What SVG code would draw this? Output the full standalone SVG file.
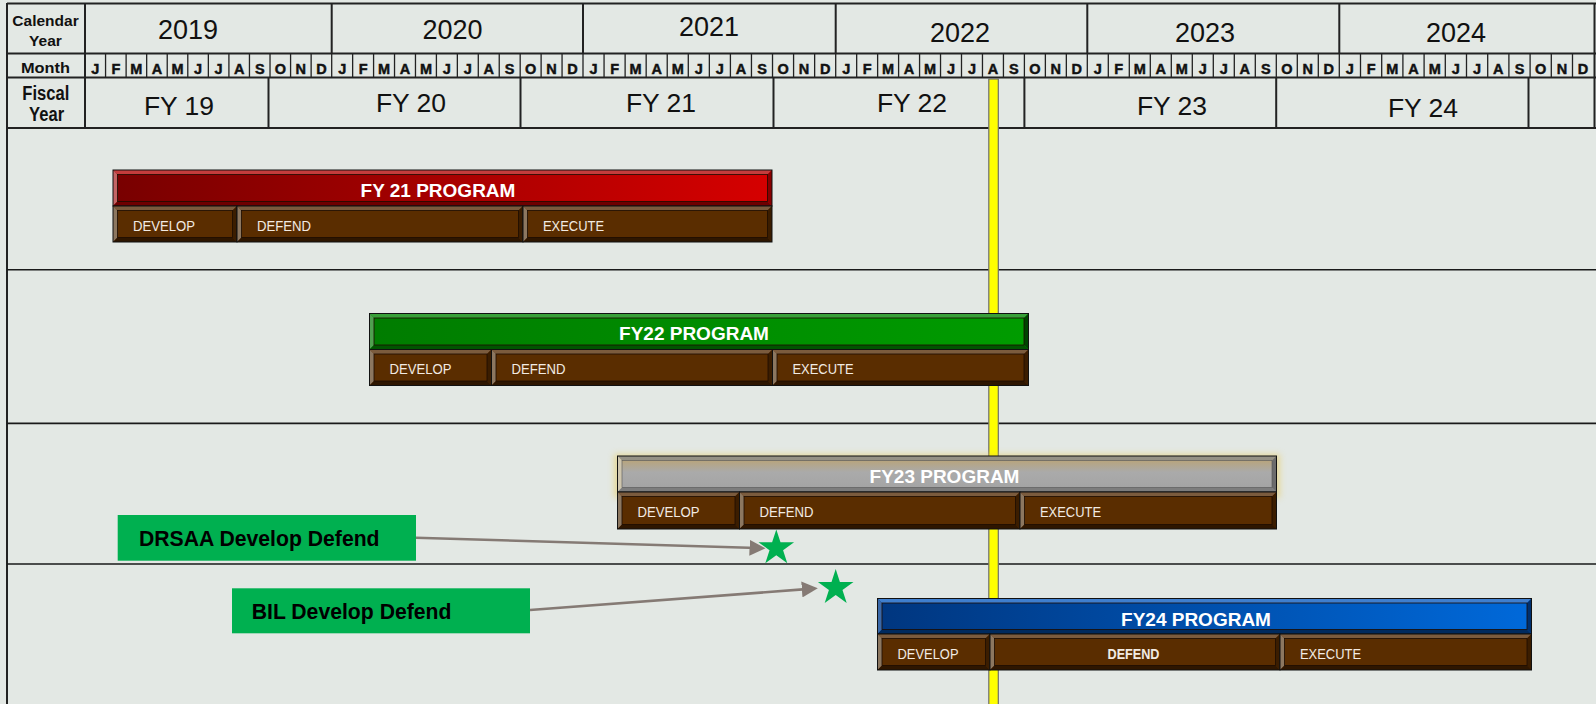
<svg xmlns="http://www.w3.org/2000/svg" width="1596" height="704" viewBox="0 0 1596 704">
<defs>
<linearGradient id="gRed" x1="0" y1="0" x2="1" y2="0"><stop offset="0" stop-color="#780000"/><stop offset="1" stop-color="#d60000"/></linearGradient>
<linearGradient id="gGreen" x1="0" y1="0" x2="1" y2="0"><stop offset="0" stop-color="#007c00"/><stop offset="1" stop-color="#009c00"/></linearGradient>
<linearGradient id="gGray" x1="0" y1="0" x2="0" y2="1"><stop offset="0" stop-color="#bda36c"/><stop offset="0.45" stop-color="#aaaaaa"/><stop offset="1" stop-color="#a3a3a3"/></linearGradient>
<linearGradient id="gBlue" x1="0" y1="0" x2="1" y2="0"><stop offset="0" stop-color="#00367f"/><stop offset="1" stop-color="#0069da"/></linearGradient>
<filter id="glow" x="-10%" y="-50%" width="120%" height="200%"><feGaussianBlur stdDeviation="3"/></filter>
<marker id="ah" markerUnits="userSpaceOnUse" markerWidth="16" markerHeight="16" viewBox="0 0 15 15" refX="7" refY="7.5" orient="auto"><path d="M0,0 L15,7.5 L0,15 Z" fill="#857a74"/></marker>
<path id="star" d="M0,-18.7 L4.2,-5.78 L17.79,-5.78 L6.79,2.21 L10.99,15.13 L0,7.14 L-10.99,15.13 L-6.79,2.21 L-17.79,-5.78 L-4.2,-5.78 Z"/>
</defs>
<style>
text{font-family:"Liberation Sans",Arial,sans-serif}
.lab{font-size:15.5px;font-weight:bold;fill:#111;text-anchor:middle}
.yr{font-size:27px;fill:#111;text-anchor:middle}
.fy{font-size:26.5px;fill:#111;text-anchor:middle}
.m{font-size:14.5px;font-weight:bold;fill:#111;stroke:#111;stroke-width:0.45;text-anchor:middle}
.grid{stroke:#222;stroke-width:2;fill:none}
.thin{stroke:#222;stroke-width:1.3;fill:none}
.row{stroke:#1a1a1a;stroke-width:1.6;fill:none}
.ol{fill:none;stroke:#111;stroke-width:1}
.in{fill:none;stroke:#1c0c00;stroke-width:0.8}
.bf{fill:#5a2d00}.bt{fill:#7b5b3d}.bl{fill:#8c7760}.br{fill:#3b1d00}.bb{fill:#2e1600}
.rf{fill:url(#gRed)}.rt{fill:#c43c3c}.rl{fill:#c46464}.rr{fill:#8a0000}.rb{fill:#6e0000}
.gf{fill:url(#gGreen)}.gt{fill:#38a038}.gl{fill:#50a050}.gr{fill:#004400}.gb{fill:#005400}
.yf{fill:url(#gGray)}.yt{fill:#959185}.yl{fill:#cfc6ae}.yrr{fill:#6c6c6c}.yb{fill:#7d7d7d}
.uf{fill:url(#gBlue)}.ut{fill:#3f7fcf}.ul{fill:#3a68a8}.ur{fill:#00306e}.ub{fill:#002a5e}
.tt{font-size:19px;font-weight:bold;fill:#fff;text-anchor:middle}
.st{font-size:15px;fill:#f2ebe3}
.gbox{fill:#00b050}
.gtx{font-size:21.2px;font-weight:bold;fill:#000}
.conn{stroke:#857a74;stroke-width:2.6;fill:none}
</style>
<rect x="0" y="0" width="1596" height="704" fill="#e3e8e4"/>

<g id="header">
<path class="grid" d="M7,3.5 H1596 M7,3 V704 M85,3 V128 M7,53.5 H1596 M7,77.5 H1596 M7,128 H1596 M1594.5,3 V128"/>
<path class="grid" d="M331.7,3.5 V53.5 M583,3.5 V53.5 M835.7,3.5 V53.5 M1087.3,3.5 V53.5 M1339.3,3.5 V53.5"/>
<path class="grid" d="M268.5,77.5 V128 M520.5,77.5 V128 M773.5,77.5 V128 M1024.4,77.5 V128 M1276.2,77.5 V128 M1528.5,77.5 V128"/>
<path class="thin" d="M105.56,53.5V77.5M126.12,53.5V77.5M146.67,53.5V77.5M167.23,53.5V77.5M187.79,53.5V77.5M208.35,53.5V77.5M228.91,53.5V77.5M249.46,53.5V77.5M270.02,53.5V77.5M290.58,53.5V77.5M311.14,53.5V77.5M331.7,53.5V77.5M352.64,53.5V77.5M373.58,53.5V77.5M394.53,53.5V77.5M415.47,53.5V77.5M436.41,53.5V77.5M457.35,53.5V77.5M478.29,53.5V77.5M499.24,53.5V77.5M520.18,53.5V77.5M541.12,53.5V77.5M562.06,53.5V77.5M583,53.5V77.5M604.06,53.5V77.5M625.12,53.5V77.5M646.17,53.5V77.5M667.23,53.5V77.5M688.29,53.5V77.5M709.35,53.5V77.5M730.41,53.5V77.5M751.46,53.5V77.5M772.52,53.5V77.5M793.58,53.5V77.5M814.64,53.5V77.5M835.7,53.5V77.5M856.67,53.5V77.5M877.63,53.5V77.5M898.6,53.5V77.5M919.57,53.5V77.5M940.53,53.5V77.5M961.5,53.5V77.5M982.47,53.5V77.5M1003.44,53.5V77.5M1024.4,53.5V77.5M1045.37,53.5V77.5M1066.34,53.5V77.5M1087.3,53.5V77.5M1108.3,53.5V77.5M1129.3,53.5V77.5M1150.3,53.5V77.5M1171.3,53.5V77.5M1192.3,53.5V77.5M1213.3,53.5V77.5M1234.3,53.5V77.5M1255.3,53.5V77.5M1276.3,53.5V77.5M1297.3,53.5V77.5M1318.3,53.5V77.5M1339.3,53.5V77.5M1360.5,53.5V77.5M1381.7,53.5V77.5M1402.9,53.5V77.5M1424.1,53.5V77.5M1445.3,53.5V77.5M1466.5,53.5V77.5M1487.7,53.5V77.5M1508.9,53.5V77.5M1530.1,53.5V77.5M1551.3,53.5V77.5M1572.5,53.5V77.5"/>
<text class="lab" x="45.5" y="26">Calendar</text>
<text class="lab" x="45.5" y="45.7">Year</text>
<text class="lab" x="45.5" y="72.7" style="font-size:14.5px" textLength="49" lengthAdjust="spacingAndGlyphs">Month</text>
<text class="lab" x="45.8" y="100" style="font-size:19.5px" textLength="47" lengthAdjust="spacingAndGlyphs">Fiscal</text>
<text class="lab" x="46.6" y="120.7" style="font-size:19.5px" textLength="35" lengthAdjust="spacingAndGlyphs">Year</text>
<text class="yr" x="188" y="39.3">2019</text>
<text class="yr" x="452.5" y="39.3">2020</text>
<text class="yr" x="709" y="36">2021</text>
<text class="yr" x="960" y="41.7">2022</text>
<text class="yr" x="1205" y="41.7">2023</text>
<text class="yr" x="1456" y="41.7">2024</text>
<text class="fy" x="179" y="115">FY 19</text>
<text class="fy" x="411" y="111.7">FY 20</text>
<text class="fy" x="661" y="111.7">FY 21</text>
<text class="fy" x="912" y="111.7">FY 22</text>
<text class="fy" x="1172" y="115">FY 23</text>
<text class="fy" x="1423" y="116.7">FY 24</text>
<g>
<text class="m" x="95.28" y="73.8">J</text><text class="m" x="115.84" y="73.8">F</text><text class="m" x="136.4" y="73.8">M</text><text class="m" x="156.95" y="73.8">A</text><text class="m" x="177.51" y="73.8">M</text><text class="m" x="198.07" y="73.8">J</text><text class="m" x="218.63" y="73.8">J</text><text class="m" x="239.19" y="73.8">A</text><text class="m" x="259.74" y="73.8">S</text><text class="m" x="280.3" y="73.8">O</text><text class="m" x="300.86" y="73.8">N</text><text class="m" x="321.42" y="73.8">D</text>
<text class="m" x="342.17" y="73.8">J</text><text class="m" x="363.11" y="73.8">F</text><text class="m" x="384.06" y="73.8">M</text><text class="m" x="405" y="73.8">A</text><text class="m" x="425.94" y="73.8">M</text><text class="m" x="446.88" y="73.8">J</text><text class="m" x="467.82" y="73.8">J</text><text class="m" x="488.77" y="73.8">A</text><text class="m" x="509.71" y="73.8">S</text><text class="m" x="530.65" y="73.8">O</text><text class="m" x="551.59" y="73.8">N</text><text class="m" x="572.53" y="73.8">D</text>
<text class="m" x="593.53" y="73.8">J</text><text class="m" x="614.59" y="73.8">F</text><text class="m" x="635.65" y="73.8">M</text><text class="m" x="656.7" y="73.8">A</text><text class="m" x="677.76" y="73.8">M</text><text class="m" x="698.82" y="73.8">J</text><text class="m" x="719.88" y="73.8">J</text><text class="m" x="740.94" y="73.8">A</text><text class="m" x="761.99" y="73.8">S</text><text class="m" x="783.05" y="73.8">O</text><text class="m" x="804.11" y="73.8">N</text><text class="m" x="825.17" y="73.8">D</text>
<text class="m" x="846.18" y="73.8">J</text><text class="m" x="867.15" y="73.8">F</text><text class="m" x="888.12" y="73.8">M</text><text class="m" x="909.08" y="73.8">A</text><text class="m" x="930.05" y="73.8">M</text><text class="m" x="951.02" y="73.8">J</text><text class="m" x="971.98" y="73.8">J</text><text class="m" x="992.95" y="73.8">A</text><text class="m" x="1013.92" y="73.8">S</text><text class="m" x="1034.89" y="73.8">O</text><text class="m" x="1055.85" y="73.8">N</text><text class="m" x="1076.82" y="73.8">D</text>
<text class="m" x="1097.8" y="73.8">J</text><text class="m" x="1118.8" y="73.8">F</text><text class="m" x="1139.8" y="73.8">M</text><text class="m" x="1160.8" y="73.8">A</text><text class="m" x="1181.8" y="73.8">M</text><text class="m" x="1202.8" y="73.8">J</text><text class="m" x="1223.8" y="73.8">J</text><text class="m" x="1244.8" y="73.8">A</text><text class="m" x="1265.8" y="73.8">S</text><text class="m" x="1286.8" y="73.8">O</text><text class="m" x="1307.8" y="73.8">N</text><text class="m" x="1328.8" y="73.8">D</text>
<text class="m" x="1349.9" y="73.8">J</text><text class="m" x="1371.1" y="73.8">F</text><text class="m" x="1392.3" y="73.8">M</text><text class="m" x="1413.5" y="73.8">A</text><text class="m" x="1434.7" y="73.8">M</text><text class="m" x="1455.9" y="73.8">J</text><text class="m" x="1477.1" y="73.8">J</text><text class="m" x="1498.3" y="73.8">A</text><text class="m" x="1519.5" y="73.8">S</text><text class="m" x="1540.7" y="73.8">O</text><text class="m" x="1561.9" y="73.8">N</text><text class="m" x="1583.1" y="73.8">D</text>
</g>
</g>

<g id="rows">
<path class="row" d="M7,269.7 H1596 M7,423.4 H1596 M7,564 H1596"/>
</g>

<g id="today-line">
<rect x="988.8" y="79" width="9.5" height="626" fill="#ffff00" stroke="#6e6e6e" stroke-width="1.2"/>
</g>

<g id="fy21">
<rect class="rf" x="113" y="170" width="659" height="36"/>
<polygon class="rt" points="113,170 772,170 767.5,174.5 117.5,174.5"/>
<polygon class="rl" points="113,170 117.5,174.5 117.5,201.5 113,206"/>
<polygon class="rr" points="772,170 772,206 767.5,201.5 767.5,174.5"/>
<polygon class="rb" points="113,206 772,206 767.5,201.5 117.5,201.5"/>
<rect class="in" x="117.5" y="174.5" width="650" height="27"/>
<rect class="ol" x="113" y="170" width="659" height="36"/>
<text class="tt" x="438" y="196.5">FY 21 PROGRAM</text>
<rect class="bf" x="113" y="206" width="124" height="36"/>
<polygon class="bt" points="113,206 237,206 232.5,210.5 117.5,210.5"/>
<polygon class="bl" points="113,206 117.5,210.5 117.5,237.5 113,242"/>
<polygon class="br" points="237,206 237,242 232.5,237.5 232.5,210.5"/>
<polygon class="bb" points="113,242 237,242 232.5,237.5 117.5,237.5"/>
<rect class="in" x="117.5" y="210.5" width="115" height="27"/>
<rect class="ol" x="113" y="206" width="124" height="36"/>
<rect class="bf" x="237" y="206" width="286" height="36"/>
<polygon class="bt" points="237,206 523,206 518.5,210.5 241.5,210.5"/>
<polygon class="bl" points="237,206 241.5,210.5 241.5,237.5 237,242"/>
<polygon class="br" points="523,206 523,242 518.5,237.5 518.5,210.5"/>
<polygon class="bb" points="237,242 523,242 518.5,237.5 241.5,237.5"/>
<rect class="in" x="241.5" y="210.5" width="277" height="27"/>
<rect class="ol" x="237" y="206" width="286" height="36"/>
<rect class="bf" x="523" y="206" width="249" height="36"/>
<polygon class="bt" points="523,206 772,206 767.5,210.5 527.5,210.5"/>
<polygon class="bl" points="523,206 527.5,210.5 527.5,237.5 523,242"/>
<polygon class="br" points="772,206 772,242 767.5,237.5 767.5,210.5"/>
<polygon class="bb" points="523,242 772,242 767.5,237.5 527.5,237.5"/>
<rect class="in" x="527.5" y="210.5" width="240" height="27"/>
<rect class="ol" x="523" y="206" width="249" height="36"/>
<text class="st" x="133" y="230.5" textLength="62" lengthAdjust="spacingAndGlyphs">DEVELOP</text>
<text class="st" x="257" y="230.5" textLength="54" lengthAdjust="spacingAndGlyphs">DEFEND</text>
<text class="st" x="543" y="230.5" textLength="61" lengthAdjust="spacingAndGlyphs">EXECUTE</text>
</g>

<g id="fy22">
<rect class="gf" x="369.5" y="313.5" width="659" height="36"/>
<polygon class="gt" points="369.5,313.5 1028.5,313.5 1024,318 374,318"/>
<polygon class="gl" points="369.5,313.5 374,318 374,345 369.5,349.5"/>
<polygon class="gr" points="1028.5,313.5 1028.5,349.5 1024,345 1024,318"/>
<polygon class="gb" points="369.5,349.5 1028.5,349.5 1024,345 374,345"/>
<rect class="in" x="374" y="318" width="650" height="27"/>
<rect class="ol" x="369.5" y="313.5" width="659" height="36"/>
<text class="tt" x="694" y="340">FY22 PROGRAM</text>
<rect class="bf" x="369.5" y="349.5" width="122" height="36"/>
<polygon class="bt" points="369.5,349.5 491.5,349.5 487,354 374,354"/>
<polygon class="bl" points="369.5,349.5 374,354 374,381 369.5,385.5"/>
<polygon class="br" points="491.5,349.5 491.5,385.5 487,381 487,354"/>
<polygon class="bb" points="369.5,385.5 491.5,385.5 487,381 374,381"/>
<rect class="in" x="374" y="354" width="113" height="27"/>
<rect class="ol" x="369.5" y="349.5" width="122" height="36"/>
<rect class="bf" x="491.5" y="349.5" width="281" height="36"/>
<polygon class="bt" points="491.5,349.5 772.5,349.5 768,354 496,354"/>
<polygon class="bl" points="491.5,349.5 496,354 496,381 491.5,385.5"/>
<polygon class="br" points="772.5,349.5 772.5,385.5 768,381 768,354"/>
<polygon class="bb" points="491.5,385.5 772.5,385.5 768,381 496,381"/>
<rect class="in" x="496" y="354" width="272" height="27"/>
<rect class="ol" x="491.5" y="349.5" width="281" height="36"/>
<rect class="bf" x="772.5" y="349.5" width="256" height="36"/>
<polygon class="bt" points="772.5,349.5 1028.5,349.5 1024,354 777,354"/>
<polygon class="bl" points="772.5,349.5 777,354 777,381 772.5,385.5"/>
<polygon class="br" points="1028.5,349.5 1028.5,385.5 1024,381 1024,354"/>
<polygon class="bb" points="772.5,385.5 1028.5,385.5 1024,381 777,381"/>
<rect class="in" x="777" y="354" width="247" height="27"/>
<rect class="ol" x="772.5" y="349.5" width="256" height="36"/>
<text class="st" x="389.5" y="373.5" textLength="62" lengthAdjust="spacingAndGlyphs">DEVELOP</text>
<text class="st" x="511.5" y="373.5" textLength="54" lengthAdjust="spacingAndGlyphs">DEFEND</text>
<text class="st" x="792.5" y="373.5" textLength="61" lengthAdjust="spacingAndGlyphs">EXECUTE</text>
</g>

<g id="fy23">
<rect x="614" y="454" width="666" height="44" fill="#e8c850" opacity="0.5" filter="url(#glow)"/>
<rect class="yf" x="617.5" y="456" width="659" height="36"/>
<polygon class="yt" points="617.5,456 1276.5,456 1272,460.5 622,460.5"/>
<polygon class="yl" points="617.5,456 622,460.5 622,487.5 617.5,492"/>
<polygon class="yrr" points="1276.5,456 1276.5,492 1272,487.5 1272,460.5"/>
<polygon class="yb" points="617.5,492 1276.5,492 1272,487.5 622,487.5"/>
<rect x="622" y="460.5" width="650" height="27" fill="none" stroke="#555" stroke-width="0.6"/>
<rect class="ol" x="617.5" y="456" width="659" height="36"/>
<text class="tt" x="944.5" y="482.7">FY23 PROGRAM</text>
<rect class="bf" x="617.5" y="492" width="122" height="37"/>
<polygon class="bt" points="617.5,492 739.5,492 735,496.5 622,496.5"/>
<polygon class="bl" points="617.5,492 622,496.5 622,524.5 617.5,529"/>
<polygon class="br" points="739.5,492 739.5,529 735,524.5 735,496.5"/>
<polygon class="bb" points="617.5,529 739.5,529 735,524.5 622,524.5"/>
<rect class="in" x="622" y="496.5" width="113" height="28"/>
<rect class="ol" x="617.5" y="492" width="122" height="37"/>
<rect class="bf" x="739.5" y="492" width="280.5" height="37"/>
<polygon class="bt" points="739.5,492 1020,492 1015.5,496.5 744,496.5"/>
<polygon class="bl" points="739.5,492 744,496.5 744,524.5 739.5,529"/>
<polygon class="br" points="1020,492 1020,529 1015.5,524.5 1015.5,496.5"/>
<polygon class="bb" points="739.5,529 1020,529 1015.5,524.5 744,524.5"/>
<rect class="in" x="744" y="496.5" width="271.5" height="28"/>
<rect class="ol" x="739.5" y="492" width="280.5" height="37"/>
<rect class="bf" x="1020" y="492" width="256.5" height="37"/>
<polygon class="bt" points="1020,492 1276.5,492 1272,496.5 1024.5,496.5"/>
<polygon class="bl" points="1020,492 1024.5,496.5 1024.5,524.5 1020,529"/>
<polygon class="br" points="1276.5,492 1276.5,529 1272,524.5 1272,496.5"/>
<polygon class="bb" points="1020,529 1276.5,529 1272,524.5 1024.5,524.5"/>
<rect class="in" x="1024.5" y="496.5" width="247.5" height="28"/>
<rect class="ol" x="1020" y="492" width="256.5" height="37"/>
<text class="st" x="637.5" y="517" textLength="62" lengthAdjust="spacingAndGlyphs">DEVELOP</text>
<text class="st" x="759.5" y="517" textLength="54" lengthAdjust="spacingAndGlyphs">DEFEND</text>
<text class="st" x="1040" y="517" textLength="61" lengthAdjust="spacingAndGlyphs">EXECUTE</text>
</g>

<g id="fy24">
<rect class="uf" x="877.5" y="598.5" width="654" height="35.5"/>
<polygon class="ut" points="877.5,598.5 1531.5,598.5 1527,603 882,603"/>
<polygon class="ul" points="877.5,598.5 882,603 882,629.5 877.5,634"/>
<polygon class="ur" points="1531.5,598.5 1531.5,634 1527,629.5 1527,603"/>
<polygon class="ub" points="877.5,634 1531.5,634 1527,629.5 882,629.5"/>
<rect class="in" x="882" y="603" width="645" height="26.5"/>
<rect class="ol" x="877.5" y="598.5" width="654" height="35.5"/>
<text class="tt" x="1196" y="625.5">FY24 PROGRAM</text>
<rect class="bf" x="877.5" y="634" width="112.5" height="36"/>
<polygon class="bt" points="877.5,634 990,634 985.5,638.5 882,638.5"/>
<polygon class="bl" points="877.5,634 882,638.5 882,665.5 877.5,670"/>
<polygon class="br" points="990,634 990,670 985.5,665.5 985.5,638.5"/>
<polygon class="bb" points="877.5,670 990,670 985.5,665.5 882,665.5"/>
<rect class="in" x="882" y="638.5" width="103.5" height="27"/>
<rect class="ol" x="877.5" y="634" width="112.5" height="36"/>
<rect class="bf" x="990" y="634" width="290" height="36"/>
<polygon class="bt" points="990,634 1280,634 1275.5,638.5 994.5,638.5"/>
<polygon class="bl" points="990,634 994.5,638.5 994.5,665.5 990,670"/>
<polygon class="br" points="1280,634 1280,670 1275.5,665.5 1275.5,638.5"/>
<polygon class="bb" points="990,670 1280,670 1275.5,665.5 994.5,665.5"/>
<rect class="in" x="994.5" y="638.5" width="281" height="27"/>
<rect class="ol" x="990" y="634" width="290" height="36"/>
<rect class="bf" x="1280" y="634" width="251.5" height="36"/>
<polygon class="bt" points="1280,634 1531.5,634 1527,638.5 1284.5,638.5"/>
<polygon class="bl" points="1280,634 1284.5,638.5 1284.5,665.5 1280,670"/>
<polygon class="br" points="1531.5,634 1531.5,670 1527,665.5 1527,638.5"/>
<polygon class="bb" points="1280,670 1531.5,670 1527,665.5 1284.5,665.5"/>
<rect class="in" x="1284.5" y="638.5" width="242.5" height="27"/>
<rect class="ol" x="1280" y="634" width="251.5" height="36"/>
<text class="st" x="897.5" y="659.3" textLength="61" lengthAdjust="spacingAndGlyphs">DEVELOP</text>
<text class="st" x="1133.5" y="659.3" text-anchor="middle" font-weight="bold" textLength="52" lengthAdjust="spacingAndGlyphs">DEFEND</text>
<text class="st" x="1300" y="659.3" textLength="61" lengthAdjust="spacingAndGlyphs">EXECUTE</text>
</g>

<g id="drsaa">
<rect class="gbox" x="117.7" y="515" width="298.3" height="45.7"/>
<text class="gtx" x="139" y="545.5">DRSAA Develop Defend</text>
</g>
<g id="bil">
<rect class="gbox" x="232" y="588.3" width="298" height="45"/>
<text class="gtx" x="251.7" y="618.8">BIL Develop Defend</text>
</g>
<g id="star1"><use href="#star" x="776.3" y="548.1" fill="#00b050"/></g>
<g id="star2"><use href="#star" x="835.7" y="587.8" fill="#00b050"/></g>

<g id="connectors">
<line class="conn" x1="416" y1="537.7" x2="757" y2="548.06" marker-end="url(#ah)"/>
<line class="conn" x1="530" y1="610" x2="809.3" y2="588.9" marker-end="url(#ah)"/>
</g>
</svg>
